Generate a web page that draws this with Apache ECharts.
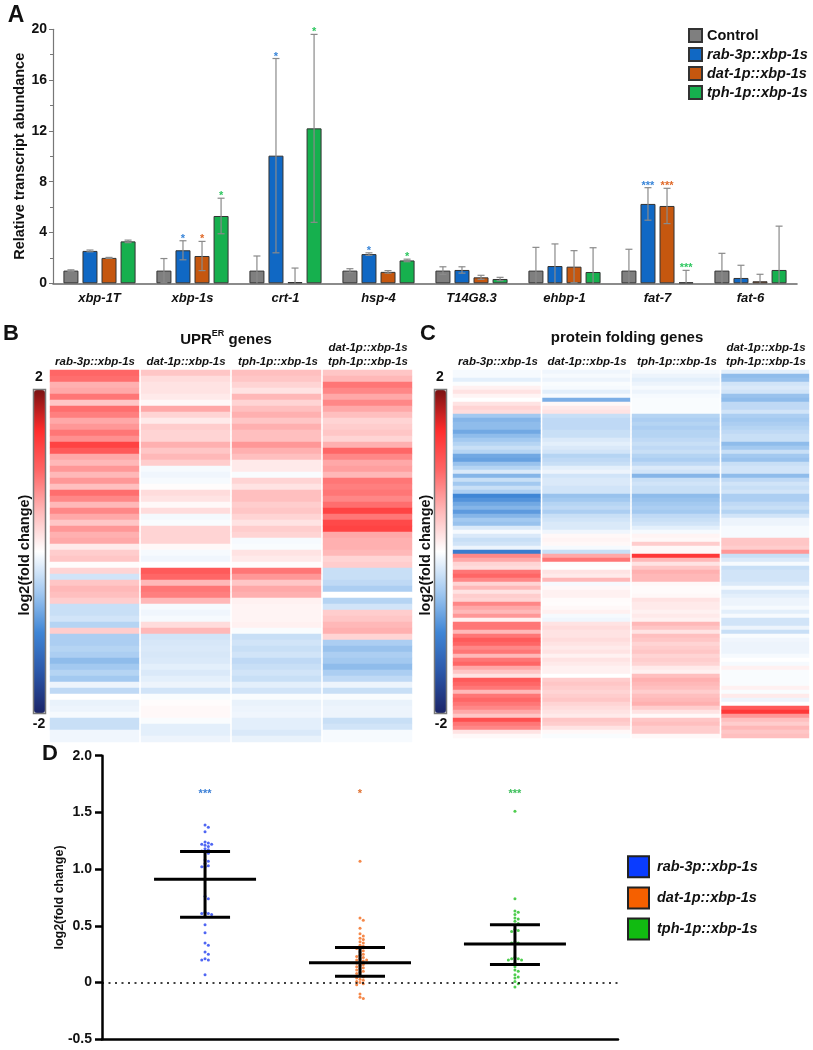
<!DOCTYPE html>
<html><head><meta charset="utf-8">
<script src="https://cdn.jsdelivr.net/npm/echarts@6/dist/echarts.min.js"></script>
<style>html,body{margin:0;padding:0;background:#fff}#c{width:813px;height:1050px}</style>
</head><body><div id="c"></div>
<script>
// ---------------- DATA ----------------
// Panel A
const genesA = ['xbp-1T','xbp-1s','crt-1','hsp-4','T14G8.3','ehbp-1','fat-7','fat-6'];
const strainsA = ['Control','rab-3p::xbp-1s','dat-1p::xbp-1s','tph-1p::xbp-1s'];
const controlMean = [1.0,1.0,1.0,1.0,1.0,1.0,1.0,1.0];
const controlErr  = [0.06,0.95,1.15,0.15,0.3,1.83,1.68,1.36];
const rabMean = [2.55,2.6,10.05,2.3,1.05,1.36,6.25,0.42];
const rabErr  = [0.07,0.75,7.65,0.1,0.25,1.74,1.28,1.0];
const datMean = [2.0,2.15,0.1,0.9,0.47,1.31,6.09,0.16];
const datErr  = [0.04,1.15,1.1,0.1,0.16,1.26,1.39,0.55];
const tphMean = [3.3,5.3,12.2,1.8,0.34,0.89,0.08,1.05];
const tphErr  = [0.1,1.4,7.4,0.1,0.13,1.91,0.94,3.45];
const controlStars = ['','','','','','','',''];
const rabStars = ['','*','*','*','','','***',''];
const datStars = ['','*','','','','','***',''];
const tphStars = ['','*','*','*','','','***',''];

// Panel B (UPR-ER genes), rows top to bottom
const colsB = ['rab-3p::xbp-1s','dat-1p::xbp-1s','tph-1p::xbp-1s','dat-1p::xbp-1s / tph-1p::xbp-1s'];
const uprRab = [1.0,0.95,0.55,0.6,0.9,0.4,0.95,0.85,0.6,0.7,0.9,0.75,1.3,1.1,0.6,0.5,0.7,0.5,0.7,0.45,0.95,0.8,0.5,0.8,0.6,0.4,0.7,0.55,0.6,0.15,0.35,0.4,0.02,0.3,-0.25,0.4,0.5,0.45,0.35,-0.3,-0.3,-0.25,-0.4,0.35,-0.45,-0.45,-0.4,-0.45,-0.6,-0.5,-0.4,-0.5,-0.1,-0.35,0,-0.12,-0.1,-0.05,-0.3,-0.3,-0.08,-0.08];
const uprDat = [0.4,0.25,0.2,0.2,0.15,0.05,0.6,0.3,0.15,0.35,0.3,0.3,0.55,0.4,0.5,0.35,-0.05,-0.08,-0.05,0.02,0.25,0.2,0.05,0.25,-0.06,-0.03,0.3,0.3,0.3,0.05,-0.05,-0.08,0,1.1,1.0,0.5,0.9,0.85,0.5,-0.05,-0.08,-0.05,0.25,0.5,-0.25,-0.22,-0.2,-0.22,-0.2,-0.15,-0.2,-0.15,-0.1,-0.25,-0.03,0.02,0.05,0.05,-0.03,-0.15,-0.15,-0.1];
const uprTph = [0.45,0.4,0.3,0.2,0.5,0.3,0.45,0.55,0.4,0.55,0.45,0.45,0.7,0.55,0.45,0.15,0.15,-0.03,0.3,0.2,0.45,0.45,0.35,0.4,0.3,0.2,0.35,0.3,-0.05,-0.03,0.2,0.15,0.02,0.9,0.7,0.4,0.6,0.55,0.1,0.08,0.08,0.08,0.1,-0.03,-0.3,-0.25,-0.3,-0.25,-0.35,-0.3,-0.25,-0.3,-0.15,-0.25,-0.03,-0.12,-0.1,-0.08,-0.15,-0.15,-0.2,-0.12];
const uprBoth = [0.4,0.5,0.9,0.8,0.6,0.8,0.6,0.45,0.3,0.35,0.4,0.3,0.55,1.0,0.8,0.6,0.65,0.5,0.9,0.85,0.9,0.8,0.95,1.3,0.9,1.25,1.3,0.6,0.55,0.55,0.5,0.3,0.35,-0.3,-0.3,-0.35,-0.45,0,-0.4,-0.25,0.35,0.4,0.5,0.55,0.3,-0.45,-0.55,-0.45,-0.5,-0.6,-0.45,-0.35,-0.1,-0.3,-0.03,-0.12,-0.1,-0.1,-0.3,-0.25,-0.05,-0.05];

// Panel C (protein folding genes), rows top to bottom
const colsC = colsB;
const pfRab = [-0.05,-0.05,-0.15,-0.02,0.1,0.2,0.08,0,0.2,0.3,0.25,-0.5,-0.65,-0.6,-0.6,-0.75,-0.6,-0.5,-0.4,-0.3,-0.4,-0.75,-0.8,-0.55,-0.4,-0.2,-0.65,-0.3,-0.5,-0.3,-0.45,-1.0,-0.9,-0.75,-0.65,-0.85,-0.65,-0.5,-0.55,-0.2,-0.05,-0.2,-0.3,-0.25,-0.1,-1.1,0.8,0.6,0.3,0.25,0.9,1.0,0.8,0.3,0.5,0.2,0.35,0.3,0.8,0.6,0.5,0.7,0.1,0.9,0.9,0.5,0.9,1.1,1.0,0.8,0.9,0.5,0.9,1.0,0.6,0.4,0.2,1.1,1.0,0.9,0.5,0.9,1.0,0.9,0.8,0.6,0.4,1.2,0.9,0.8,0.2,0.05];
const pfDat = [-0.08,-0.05,-0.1,-0.03,-0.05,-0.15,-0.05,-0.7,0.05,0.15,0.2,-0.3,-0.35,-0.35,-0.35,-0.3,-0.3,-0.2,-0.15,-0.2,-0.25,-0.4,-0.35,-0.3,-0.15,-0.1,-0.25,-0.2,-0.2,-0.25,-0.25,-0.55,-0.5,-0.4,-0.35,-0.45,-0.3,-0.25,-0.2,-0.2,-0.08,0.05,0.08,0.05,-0.05,-0.3,0.6,0.9,0.02,0,0.2,0.15,0.5,-0.05,0.05,0.1,0.1,0.03,0.02,0.05,0.1,-0.05,-0.08,0.2,0.25,0.2,0.2,0.25,0.2,0.15,0.2,0.1,0.2,0.15,0.1,0.1,0,0.35,0.4,0.35,0.3,0.35,0.4,0.3,0.25,0.2,0.15,0.4,0.35,0.2,0.05,-0.03];
const pfTph = [-0.05,-0.1,-0.15,-0.1,-0.05,-0.1,-0.05,-0.03,-0.03,-0.03,-0.03,-0.4,-0.45,-0.4,-0.45,-0.4,-0.4,-0.35,-0.3,-0.35,-0.3,-0.4,-0.45,-0.35,-0.2,-0.25,-0.65,-0.3,-0.25,-0.3,-0.3,-0.6,-0.55,-0.5,-0.45,-0.5,-0.35,-0.3,-0.25,-0.15,-0.05,0.08,0.05,0.35,0.05,0.05,1.4,0.5,0.2,0.4,0.55,0.5,0.5,0.05,0.03,0.03,0.05,0.2,0.15,0.15,0.1,0.15,0.1,0.5,0.4,0.2,0.45,0.4,0.3,0.35,0.4,0.3,0.35,0.3,0.15,0.1,0.45,0.55,0.5,0.45,0.35,0.45,0.5,0.55,0.35,0.2,0.05,0.4,0.45,0.35,0.35,0.05];
const pfBoth = [-0.15,-0.6,-0.55,-0.25,-0.2,-0.25,-0.55,-0.6,-0.35,-0.35,-0.25,-0.45,-0.5,-0.45,-0.4,-0.35,-0.3,-0.3,-0.6,-0.5,-0.3,-0.5,-0.55,-0.3,-0.25,-0.25,-0.6,-0.35,-0.25,-0.3,-0.25,-0.45,-0.45,-0.35,-0.3,-0.4,-0.25,-0.1,-0.1,-0.05,-0.05,-0.05,0.4,0.4,0.35,0.7,-0.3,-0.2,-0.05,-0.3,-0.25,-0.25,-0.25,-0.2,-0.05,-0.2,-0.15,-0.1,-0.1,-0.05,-0.15,-0.05,-0.25,-0.25,-0.1,-0.3,-0.03,-0.08,-0.1,-0.1,-0.1,-0.05,0,-0.05,0.1,-0.03,-0.03,-0.03,-0.03,0.1,-0.03,0.15,-0.1,0,1.1,1.4,0.7,0.45,0.35,0.5,0.4,0.45];

// Panel D
const groupsD = ['rab-3p::xbp-1s','dat-1p::xbp-1s','tph-1p::xbp-1s'];
const rabD = [1.39,1.37,1.33,1.24,1.23,1.22,1.22,1.21,1.2,1.18,1.17,1.16,1.15,1.14,1.08,1.07,1.05,1.03,1.02,1.02,0.76,0.74,0.62,0.61,0.61,0.6,0.58,0.51,0.44,0.35,0.33,0.27,0.25,0.21,0.2,0.2,0.07];
const datD = [1.07,0.57,0.55,0.48,0.43,0.41,0.39,0.38,0.36,0.35,0.33,0.32,0.3,0.3,0.28,0.27,0.25,0.24,0.23,0.22,0.21,0.2,0.2,0.19,0.18,0.17,0.16,0.15,0.14,0.13,0.12,0.11,0.1,0.09,0.08,0.06,0.05,0.04,0.03,0.02,0.01,0,-0.01,-0.02,-0.1,-0.13,-0.14];
const tphD = [1.51,0.74,0.63,0.62,0.6,0.57,0.56,0.54,0.52,0.47,0.46,0.45,0.36,0.35,0.35,0.22,0.21,0.21,0.2,0.2,0.17,0.14,0.11,0.1,0.07,0.05,0.04,0.01,-0.01,-0.04];
const meanD = [0.91,0.175,0.34];
const sdLowD = [0.575,0.055,0.16];
const sdHighD = [1.155,0.31,0.51];
const starsD = ['***','*','***'];
const starLevelD = 1.69;

// ---------------- STYLE / LAYOUT ----------------
const FONT = "'Liberation Sans', Arial, Helvetica, sans-serif";
const barColors = ['#7f7f7f','#1068c4','#c5570f','#16b04e'];
const starColorsA = ['#555','#3a86d9','#e06a2a','#2ec760'];
const dotColors = ['#2340f0','#f26a1b','#22c022'];
const legendDColors = ['#0a3cff','#f56000','#11bb11'];
const starColorsD = ['#3b7fd6','#e07030','#3bbf5a'];
const BW = 15, BGAP = 4.05;
const heatColors = ['#1b2468','#2a56a8','#3f86d6','#a3c9f0','#ffffff','#ffb8b8','#ff6666','#ff2c2c','#7a1212'];

const meansA = [controlMean, rabMean, datMean, tphMean];
const errsA = [controlErr, rabErr, datErr, tphErr];
const starsA = [controlStars, rabStars, datStars, tphStars];

const chart = echarts.init(document.getElementById('c'));

function toCells(cols){
  const out = [];
  cols.forEach((arr, ci) => arr.forEach((v, ri) => out.push([ci, ri, v])));
  return out;
}
const cellsB = toCells([uprRab, uprDat, uprTph, uprBoth]);
const cellsC = toCells([pfRab, pfDat, pfTph, pfBoth]);
const rowsB = uprRab.map((_, i) => String(i));
const rowsC = pfRab.map((_, i) => String(i));

function cellRender(params, api){
  const c = api.coord([api.value(0), api.value(1)]);
  const s = api.size([1, 1]);
  return {type:'rect', shape:{x:c[0]-s[0]/2+0.8, y:c[1]-s[1]/2-0.3, width:s[0]-1.6, height:s[1]+0.6},
          style:{fill: api.visual('color')}};
}

// simple beeswarm layout (pixel spacing)
function swarm(values, center){
  const pxPerY = 283.6/2.5, pxPerX = 155, d = 3.3;
  const placed = [], out = [];
  values.slice().sort((a,b)=>b-a).forEach(v => {
    const py = v*pxPerY;
    for (let j = 0; j < 60; j++){
      const cand = (j % 2 === 1 ? 1 : -1) * Math.ceil(j/2) * d;
      if (placed.every(p => Math.hypot(p[0]-cand, p[1]-py) >= d)){
        placed.push([cand, py]); out.push([center + cand/pxPerX, v]); break;
      }
    }
  });
  return out;
}

const series = [];
strainsA.forEach((name, k) => {
  series.push({type:'bar', name, xAxisIndex:0, yAxisIndex:0, data: meansA[k], barWidth: BW, barGap:'27%',
    itemStyle:{color: barColors[k], borderColor:'#333', borderWidth:1}, silent:true});
});
strainsA.forEach((name, k) => {
  series.push({type:'custom', name:'err'+k, xAxisIndex:0, yAxisIndex:0, silent:true, z:4,
    data: genesA.map((g, i) => [i, meansA[k][i], errsA[k][i]]),
    renderItem: (params, api) => {
      const i = api.value(0), v = api.value(1), e = api.value(2);
      const groupW = 4*BW + 3*BGAP;
      const x = api.coord([i, 0])[0] - groupW/2 + k*(BW+BGAP) + BW/2;
      const yT = api.coord([i, v+e])[1];
      const lo = Math.max(0, v-e);
      const yB = api.coord([i, lo])[1];
      const ls = {stroke:'#8a8a8a', lineWidth:1.2};
      const ch = [
        {type:'line', shape:{x1:x, y1:yT, x2:x, y2:yB}, style:ls},
        {type:'line', shape:{x1:x-3.5, y1:yT, x2:x+3.5, y2:yT}, style:ls}
      ];
      if (lo > 0) ch.push({type:'line', shape:{x1:x-3.5, y1:yB, x2:x+3.5, y2:yB}, style:ls});
      const s = starsA[k][params.dataIndex];
      if (s) ch.push({type:'text', style:{text:s, x:x, y:yT-2, align:'center', verticalAlign:'middle',
        font:'bold 11px '+FONT, fill: starColorsA[k]}});
      return {type:'group', children: ch};
    }});
});
series.push({type:'custom', name:'heatB', xAxisIndex:1, yAxisIndex:1, data: cellsB, renderItem: cellRender, silent:true});
series.push({type:'custom', name:'heatC', xAxisIndex:2, yAxisIndex:2, data: cellsC, renderItem: cellRender, silent:true});
const dataD = [rabD, datD, tphD];
groupsD.forEach((g, i) => {
  const s = {type:'scatter', name:'D '+g, xAxisIndex:3, yAxisIndex:3, data: swarm(dataD[i], i+1),
    symbol:'circle', symbolSize:3, itemStyle:{color: dotColors[i]}, silent:true, z:3};
  if (i === 0) s.markLine = {silent:true, symbol:'none', label:{show:false},
    lineStyle:{type:[2,4.5], color:'#000', width:1.7}, data:[{yAxis:0}]};
  series.push(s);
});
series.push({type:'custom', name:'meanSD', xAxisIndex:3, yAxisIndex:3, silent:true, z:6,
  data: groupsD.map((g, i) => [i+1, meanD[i], sdLowD[i], sdHighD[i]]),
  renderItem: (params, api) => {
    const x = api.value(0);
    const pm = api.coord([x, api.value(1)]), pl = api.coord([x, api.value(2)]), ph = api.coord([x, api.value(3)]);
    const ps = api.coord([x, starLevelD]);
    const st = {stroke:'#000', lineWidth:3};
    return {type:'group', children:[
      {type:'line', shape:{x1:pm[0]-51, y1:pm[1], x2:pm[0]+51, y2:pm[1]}, style:st},
      {type:'line', shape:{x1:ph[0]-25, y1:ph[1], x2:ph[0]+25, y2:ph[1]}, style:st},
      {type:'line', shape:{x1:pl[0]-25, y1:pl[1], x2:pl[0]+25, y2:pl[1]}, style:st},
      {type:'line', shape:{x1:pm[0], y1:pl[1], x2:pm[0], y2:ph[1]}, style:st},
      {type:'text', style:{text: starsD[params.dataIndex], x: ps[0], y: ps[1]+3, align:'center', verticalAlign:'middle',
        font:'bold 11px '+FONT, fill: starColorsD[params.dataIndex]}}
    ]};
  }});

const txt = (text, x, y, font, extra) => Object.assign({type:'text', x, y, silent:true,
  style:{text, font, fill:'#111', align:'center', verticalAlign:'middle'}}, extra || {});
const BI = 'italic bold 11.5px '+FONT;
const graphic = [
  txt('A', 16, 16, 'bold 23px '+FONT),
  txt('B', 11, 334, 'bold 22px '+FONT),
  txt('C', 428, 334, 'bold 22px '+FONT),
  txt('D', 50, 754, 'bold 22px '+FONT),
  {type:'text', x:226, y:338, silent:true, style:{text:'{a|UPR}{s|ER}{a| genes}', align:'center', verticalAlign:'middle',
    rich:{a:{font:'bold 15px '+FONT, fill:'#111', lineHeight:18, verticalAlign:'bottom'},
          s:{font:'bold 9px '+FONT, fill:'#111', lineHeight:18, verticalAlign:'top'}}}},
  txt('protein folding genes', 627, 338, 'bold 15px '+FONT),
  txt('rab-3p::xbp-1s', 95, 362, BI), txt('dat-1p::xbp-1s', 186, 362, BI), txt('tph-1p::xbp-1s', 278, 362, BI),
  txt('dat-1p::xbp-1s', 368, 348, BI), txt('tph-1p::xbp-1s', 368, 362, BI),
  txt('rab-3p::xbp-1s', 498, 362, BI), txt('dat-1p::xbp-1s', 587, 362, BI), txt('tph-1p::xbp-1s', 677, 362, BI),
  txt('dat-1p::xbp-1s', 766, 348, BI), txt('tph-1p::xbp-1s', 766, 362, BI),
  txt('2', 39, 377, 'bold 14px '+FONT), txt('-2', 39, 724, 'bold 14px '+FONT),
  txt('2', 440, 377, 'bold 14px '+FONT), txt('-2', 441, 724, 'bold 14px '+FONT),
  txt('log2(fold change)', 25, 555, 'bold 14.5px '+FONT, {rotation: Math.PI/2}),
  txt('log2(fold change)', 426, 555, 'bold 14.5px '+FONT, {rotation: Math.PI/2}),
  {type:'rect', silent:true, z:100, shape:{x:33.5, y:389.5, width:12, height:324}, style:{fill:'none', stroke:'#777', lineWidth:1.5}},
  {type:'rect', silent:true, z:100, shape:{x:434.5, y:389.5, width:12, height:324}, style:{fill:'none', stroke:'#777', lineWidth:1.5}}
];
groupsD.forEach((g, i) => {
  const cy = 866.7 + i*31.2;
  graphic.push({type:'rect', silent:true, shape:{x:628, y:cy-10.5, width:21, height:21},
    style:{fill: legendDColors[i], stroke:'#222', lineWidth:2}});
  graphic.push({type:'text', x:657, y:cy, silent:true, style:{text:g, font:'italic bold 14.5px '+FONT, fill:'#111', align:'left', verticalAlign:'middle'}});
});

const option = {
  animation:false,
  textStyle:{fontFamily: FONT},
  grid:[
    {left:53, top:29.3, width:744, height:254},
    {left:49, top:370, width:364, height:372},
    {left:452, top:370, width:358, height:368},
    {left:102, top:755.7, width:516, height:283.6}
  ],
  legend:{data: strainsA, orient:'vertical', left:688, top:28, padding:0, itemWidth:13, itemHeight:13, itemGap:4, icon:'rect',
    selectedMode:false,
    formatter: n => n === 'Control' ? '{n|'+n+'}' : '{i|'+n+'}',
    textStyle:{fontFamily:FONT, fontSize:14.5, fontWeight:'bold', color:'#111',
      rich:{n:{fontFamily:FONT, fontSize:14.5, fontWeight:'bold', color:'#111'},
            i:{fontFamily:FONT, fontSize:14.5, fontWeight:'bold', fontStyle:'italic', color:'#111'}}}},
  visualMap:[
    {type:'continuous', min:-2, max:2, seriesIndex:8, dimension:2, left:34, top:390, itemWidth:11, itemHeight:323,
     calculable:false, padding:0, orient:'vertical', inRange:{color: heatColors}, hoverLink:false},
    {type:'continuous', min:-2, max:2, seriesIndex:9, dimension:2, left:435, top:390, itemWidth:11, itemHeight:323,
     calculable:false, padding:0, orient:'vertical', inRange:{color: heatColors}, hoverLink:false}
  ],
  xAxis:[
    {gridIndex:0, type:'category', data: genesA, axisLine:{lineStyle:{color:'#666', width:1.6}}, axisTick:{show:false},
     axisLabel:{fontFamily:FONT, fontWeight:'bold', fontStyle:'italic', fontSize:13, color:'#111', margin:9}},
    {gridIndex:1, type:'category', data: colsB, show:false},
    {gridIndex:2, type:'category', data: colsC, show:false},
    {gridIndex:3, type:'value', min:0.335, max:3.665, axisLine:{onZero:false, lineStyle:{color:'#000', width:2.5}},
     axisTick:{show:false}, axisLabel:{show:false}, splitLine:{show:false}}
  ],
  yAxis:[
    {gridIndex:0, type:'value', min:0, max:20, interval:4, name:'Relative transcript abundance', nameLocation:'middle', nameGap:26,
     nameMoveOverlap:false,
     nameTextStyle:{fontFamily:FONT, fontWeight:'bold', fontSize:14.5, color:'#111'},
     axisLine:{show:true, lineStyle:{color:'#777', width:1.2}}, axisTick:{show:true, length:4, lineStyle:{color:'#777'}},
     minorTick:{show:true, splitNumber:2, length:3, lineStyle:{color:'#777'}},
     axisLabel:{fontFamily:FONT, fontWeight:'bold', fontSize:14, color:'#111', margin:6}, splitLine:{show:false}},
    {gridIndex:1, type:'category', data: rowsB, inverse:true, show:false},
    {gridIndex:2, type:'category', data: rowsC, inverse:true, show:false},
    {gridIndex:3, type:'value', min:-0.5, max:2, interval:0.5, name:'log2(fold change)', nameLocation:'middle', nameGap:36,
     nameMoveOverlap:false,
     nameTextStyle:{fontFamily:FONT, fontWeight:'bold', fontSize:12.5, color:'#111'},
     axisLine:{show:true, lineStyle:{color:'#000', width:2.5}}, axisTick:{show:true, length:7, lineStyle:{color:'#000', width:2.5}},
     axisLabel:{fontFamily:FONT, fontWeight:'bold', fontSize:14, color:'#111', margin:10,
       formatter: v => v === 0 ? '0' : v.toFixed(1)}, splitLine:{show:false}}
  ],
  graphic: graphic,
  series: series
};
chart.setOption(option);
</script></body></html>
